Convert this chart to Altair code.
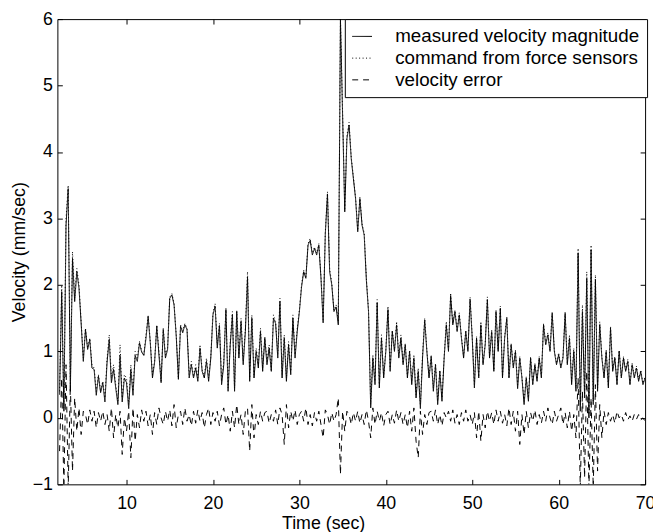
import altair as alt
import pandas as pd

# sampling grid: 2.25 s to 70 s, every 0.25 s
t_start = 2.25
t_step = 0.25

measured = [
    0.35, 1.9, 0.1, 2.9,   3.45, 0.4, 2.4, 1.75,   2.2, 1.95, 1.42, 0.85,   1.33, 1.03, 1.18, 0.75,
    0.73, 0.34, 0.63, 0.38,   0.53, 0.24, 0.84, 1.18,   0.53, 0.73, 0.45, 0.2,   0.94, 0.24, 0.6, 0.53,
    0.14, 0.73, 0.34, 0.94,   0.85, 1.13, 0.99, 0.94,   1.2, 1.52, 1.13, 0.6,   0.84, 1.38, 0.95, 0.53,
    1.33, 0.9, 1.03, 1.8,   1.85, 1.7, 1.23, 0.58,   1.38, 1.28, 1.4, 1.33,   0.6, 0.8, 0.6, 0.75,
    0.55, 1.05, 0.7, 0.6,   0.85, 0.55, 0.9, 1.55,   1.68, 1.05, 1.39, 0.5,   0.8, 1.63, 0.4, 1.1,
    1.55, 0.4, 1.6, 0.9,   1.45, 0.8, 1.3, 2.12,   0.55, 1.5, 0.6, 1.0,   0.75, 1.3, 0.7, 1.2,
    0.8, 1.05, 0.7, 1.5,   1.42, 0.9, 1.75, 0.6,   1.2, 0.55, 1.1, 0.65,   1.5, 0.9, 1.3, 1.6,
    1.97, 2.2, 2.1, 2.6,   2.67, 2.45, 2.55, 2.45,   2.6, 2.1, 1.43, 2.77,   3.37, 2.2, 2.0, 1.6,
    1.67, 1.4, 6.0, 4.55,   3.1, 4.2, 4.4, 3.9,   3.6, 3.3, 2.8, 3.3,   2.9, 2.75, 2.07, 1.6,
    0.15, 0.9, 0.5, 1.73,   0.45, 1.2, 0.6, 1.0,   1.63, 0.7, 1.3, 1.0,   1.4, 0.9, 1.2, 0.8,
    1.1, 0.6, 1.0, 0.5,   0.9, 0.3, 0.7, 0.14,   0.9, 1.47, 1.0, 0.6,   0.92, 0.4, 0.8, 0.2,
    0.7, 0.25, 0.9, 1.4,   1.0, 1.84, 1.4, 1.6,   1.3, 1.55, 1.2, 0.9,   1.3, 1.0, 1.78, 1.2,
    0.45, 1.2, 0.6, 1.4,   0.8, 1.1, 1.78, 0.9,   1.3, 0.7, 1.6, 1.0,   1.65, 0.6, 1.2, 1.5,
    0.6, 1.1, 0.75, 1.0,   0.44, 0.9, 0.6, 0.2,   0.6, 0.25, 0.9, 0.5,   0.8, 0.55, 0.9, 0.6,
    1.4, 1.1, 1.25, 1.0,   1.57, 1.0, 0.8, 0.95,   0.75, 0.9, 1.57, 0.8,   1.2, 0.5, 1.0, 0.4,
    2.48, 0.1, 1.6, 0.3,   2.1, 0.0, 2.53, 0.2,   2.08, 0.4, 1.4, 0.9,   0.6, 1.0, 0.45, 1.35,
    0.7, 0.9, 0.5, 1.0,   0.6, 0.9, 0.7, 0.85,   0.5, 0.8, 0.6, 0.75,   0.55, 0.7, 0.5, 0.6,
]

command = [
    0.4, 2.0, 0.15, 3.0,   3.5, 0.5, 2.5, 1.8,   2.25, 2.0, 1.45, 0.9,   1.35, 1.05, 1.2, 0.8,
    0.75, 0.4, 0.65, 0.4,   0.55, 0.3, 0.9, 1.25,   0.6, 0.8, 0.5, 0.25,   1.1, 0.3, 0.65, 0.6,
    0.2, 0.8, 0.4, 1.0,   0.9, 1.15, 1.0, 0.95,   1.25, 1.55, 1.15, 0.65,   0.85, 1.4, 1.0, 0.55,
    1.35, 0.95, 1.05, 1.82,   1.87, 1.72, 1.25, 0.6,   1.4, 1.3, 1.42, 1.35,   0.65, 0.85, 0.62, 0.8,
    0.6, 1.1, 0.72, 0.62,   0.9, 0.6, 0.92, 1.58,   1.72, 1.1, 1.42, 0.55,   0.85, 1.65, 0.45, 1.15,
    1.6, 0.45, 1.62, 0.95,   1.5, 0.85, 1.35, 2.2,   0.6, 1.55, 0.65, 1.05,   0.8, 1.35, 0.75, 1.22,
    0.85, 1.1, 0.72, 1.55,   1.45, 0.95, 1.8, 0.65,   1.25, 0.6, 1.15, 0.7,   1.55, 0.95, 1.35, 1.62,
    2.0, 2.22, 2.12, 2.62,   2.7, 2.48, 2.57, 2.48,   2.62, 2.12, 1.48, 2.8,   3.4, 2.25, 2.02, 1.62,
    1.7, 1.45, 6.0, 4.6,   3.15, 4.25, 4.45, 3.92,   3.62, 3.32, 2.82, 3.32,   2.92, 2.78, 2.1, 1.62,
    0.2, 0.95, 0.55, 1.78,   0.5, 1.25, 0.62, 1.02,   1.68, 0.75, 1.32, 1.02,   1.45, 0.92, 1.25, 0.82,
    1.12, 0.62, 1.02, 0.55,   0.95, 0.35, 0.75, 0.2,   0.95, 1.5, 1.02, 0.62,   0.95, 0.45, 0.82, 0.25,
    0.72, 0.3, 0.92, 1.45,   1.02, 1.88, 1.42, 1.62,   1.32, 1.58, 1.22, 0.92,   1.32, 1.02, 1.82, 1.22,
    0.5, 1.22, 0.62, 1.45,   0.82, 1.12, 1.82, 0.92,   1.32, 0.72, 1.62, 1.02,   1.68, 0.62, 1.22, 1.52,
    0.62, 1.12, 0.78, 1.02,   0.5, 0.92, 0.62, 0.25,   0.62, 0.3, 0.92, 0.52,   0.82, 0.58, 0.92, 0.62,
    1.42, 1.12, 1.28, 1.02,   1.6, 1.02, 0.82, 0.98,   0.78, 0.92, 1.6, 0.82,   1.25, 0.55, 1.05, 0.45,
    2.55, 0.2, 1.7, 0.35,   2.2, 0.05, 2.6, 0.25,   2.15, 0.45, 1.45, 0.92,   0.62, 1.02, 0.48, 1.38,
    0.72, 0.92, 0.52, 1.02,   0.62, 0.92, 0.72, 0.88,   0.52, 0.82, 0.62, 0.78,   0.58, 0.72, 0.52, 0.62,
]

velocity_error = [
    -0.5, 0.6, -1.05, 0.8,   -1.05, 0.5, -0.8, 0.3,   -0.2, 0.15, -0.25, 0.1,   0.05, -0.1, 0.12, -0.05,
    0.1, -0.15, 0.08, -0.05,   0.1, -0.1, 0.05, -0.2,   0.15, -0.3, 0.05, -0.15,   0.1, -0.55, 0.0, -0.2,
    0.1, -0.6, 0.15, -0.35,   0.05, -0.15, 0.12, -0.05,   0.1, -0.12, 0.05, -0.25,   0.08, -0.1, 0.15, 0.0,
    -0.1, 0.1, -0.05, 0.12,   -0.12, 0.2, -0.15, 0.05,   0.1, -0.1, 0.15, -0.05,   0.05, -0.12, 0.1, -0.08,
    0.12, -0.05, 0.08, -0.15,   0.05, 0.15, -0.1, 0.08,   -0.05, 0.1, -0.12, 0.05,   0.15, -0.1, 0.05, -0.2,
    0.1, -0.15, 0.2, -0.1,   0.05, -0.25, 0.1, 0.15,   -0.5, 0.2, -0.3, 0.05,   -0.1, 0.1, -0.05, 0.08,
    0.1, -0.08, 0.05, -0.05,   0.12, -0.1, 0.15, 0.05,   -0.4, 0.2, -0.15, 0.1,   -0.05, 0.12, -0.1, 0.05,
    0.1, -0.05, 0.15, -0.1,   0.05, -0.12, 0.08, -0.05,   0.1, -0.1, -0.3, 0.12,   0.05, -0.1, 0.08, -0.05,
    0.05, 0.3, -0.85, 0.1,   -0.2, 0.1, 0.05, -0.1,   0.08, -0.05, 0.1, -0.08,   0.05, -0.1, 0.12, -0.05,
    -0.3, 0.15, -0.1, 0.1,   -0.05, 0.08, -0.12, 0.05,   0.1, -0.1, 0.05, -0.08,   0.12, -0.05, 0.08, -0.1,
    0.05, -0.15, 0.1, -0.2,   0.15, -0.35, -0.6, 0.1,   -0.25, 0.05, -0.1, 0.08,   0.1, -0.05, 0.12, -0.1,
    0.05, -0.12, 0.08, 0.0,   0.1, -0.05, 0.12, -0.08,   0.05, -0.1, 0.08, -0.05,   0.12, -0.05, 0.05, -0.1,
    0.08, -0.3, 0.1, -0.35,   0.05, -0.15, 0.1, -0.05,   0.08, -0.1, 0.12, -0.05,   0.1, -0.08, 0.05, -0.12,
    0.15, -0.1, 0.1, -0.2,   0.1, -0.4, 0.05, -0.25,   0.1, -0.15, 0.08, -0.05,   0.12, -0.1, 0.05, -0.08,
    0.1, -0.05, 0.15, 0.0,   -0.1, 0.1, -0.05, 0.05,   0.15, -0.1, 0.08, -0.15,   0.1, -0.2, 0.05, -0.3,
    0.6, -1.05, 0.4, -0.9,   0.7, -1.05, 0.3, -1.05,   0.5, -0.8, 0.2, -0.3,   0.1, -0.1, 0.08, -0.05,
    0.05, -0.08, 0.1, 0.0,   0.05, -0.05, 0.08, -0.03,   0.03, -0.05, 0.05, -0.02,   0.05, -0.03, 0.0, -0.05,
]

series_names = ["measured velocity magnitude", "command from force sensors", "velocity error"]
series_values = [measured, command, velocity_error]

rows = []
for name, vals in zip(series_names, series_values):
    for i, v in enumerate(vals):
        rows.append({"series": name, "time": round(t_start + t_step * i, 2), "velocity": v, "idx": i})
df = pd.DataFrame(rows)

FONT = "Liberation Sans"
x_ticks = [10, 20, 30, 40, 50, 60, 70]
y_ticks = [-1, 0, 1, 2, 3, 4, 5, 6]
x_scale = alt.Scale(domain=[2, 70], nice=False, zero=False)
y_scale = alt.Scale(domain=[-1, 6], nice=False, zero=False)

lines = alt.Chart(df).mark_line(color="black", strokeWidth=1.0, clip=True).encode(
    x=alt.X("time:Q", scale=x_scale,
            axis=alt.Axis(title="Time (sec)", values=x_ticks, grid=False,
                          domain=False, offset=-5, tickSize=5, tickColor="black",
                          labelPadding=10, titlePadding=3, titleX=269, labelFlush=False,
                          labelFont=FONT, titleFont=FONT, labelFontSize=18, titleFontSize=18,
                          labelColor="black", titleColor="black", titleFontWeight="normal")),
    y=alt.Y("velocity:Q", scale=y_scale,
            axis=alt.Axis(title="Velocity (mm/sec)", values=y_ticks, grid=False,
                          domain=False, offset=-5, tickSize=5, tickColor="black",
                          labelPadding=5, titlePadding=4, labelFlush=False,
                          labelFont=FONT, titleFont=FONT, labelFontSize=18, titleFontSize=18,
                          labelColor="black", titleColor="black", titleFontWeight="normal")),
    strokeDash=alt.StrokeDash("series:N",
                              scale=alt.Scale(domain=series_names, range=[[1, 0], [1, 2.5], [6, 5]]),
                              legend=alt.Legend(title=None, orient="none", legendX=291, legendY=0,
                                                symbolType="stroke", symbolSize=400,
                                                symbolStrokeColor="black", symbolStrokeWidth=1,
                                                labelFontSize=19, labelFont=FONT, labelColor="black",
                                                labelLimit=0,
                                                strokeColor="black", fillColor="white",
                                                padding=7, rowPadding=1, labelOffset=23)),
    order="idx:Q",
)

frame_axes = alt.Chart(df).mark_point(opacity=0).encode(
    x=alt.X("time:Q", scale=x_scale,
            axis=alt.Axis(orient="top", title=None, labels=False, values=x_ticks,
                          grid=False, domain=False, offset=-5, tickSize=5, tickColor="black")),
    y=alt.Y("velocity:Q", scale=y_scale,
            axis=alt.Axis(orient="right", title=None, labels=False, values=y_ticks,
                          grid=False, domain=False, offset=-5, tickSize=5, tickColor="black")),
)

chart = alt.layer(lines, frame_axes).resolve_axis(x="independent", y="independent").properties(
    width=595, height=471,
    background="white",
    autosize=alt.AutoSizeParams(type="none"),
    padding={"left": 50, "top": 8, "right": 8, "bottom": 45},
).configure_view(stroke="black", strokeWidth=1)

chart.save("out.html", embed_options={"renderer": "svg", "actions": False})
